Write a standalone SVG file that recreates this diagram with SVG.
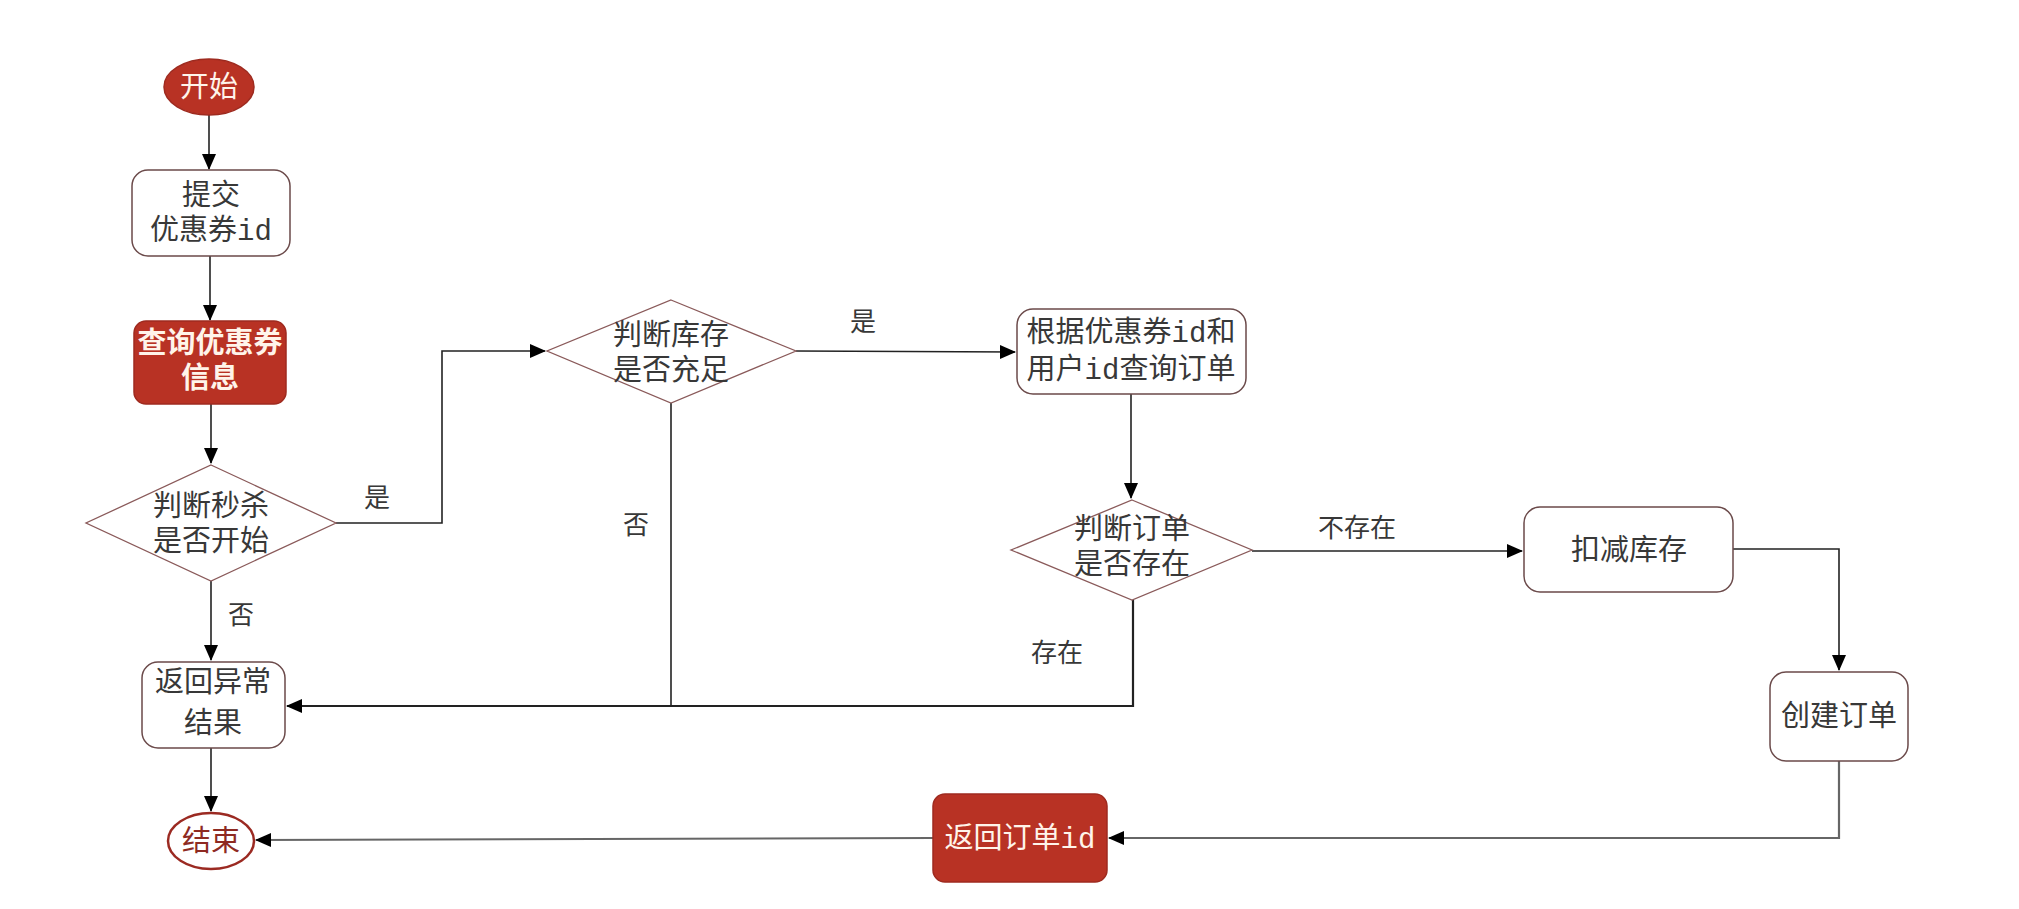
<svg xmlns="http://www.w3.org/2000/svg" width="2019" height="909" viewBox="0 0 2019 909">
<style>
text{font-family:"Liberation Mono","Noto Sans CJK SC",monospace;font-size:29px;text-anchor:middle;fill:#383838}
.w{fill:#fff4ea}
.b{font-weight:bold}
.red{fill:#b83224;stroke:#9e2a1f;stroke-width:1.5}
.box{fill:#fff;stroke:#6b4a4a;stroke-width:1.5}
.dia{fill:#fff;stroke:#8a5a5a;stroke-width:1.3}
.ln{fill:none;stroke:#222;stroke-width:1.6}
.lg{fill:none;stroke:#666;stroke-width:2.2}
.lbl{font-size:26px}
</style>
<defs>
<marker id="ah" markerWidth="16" markerHeight="16" refX="15" refY="8" orient="auto" markerUnits="userSpaceOnUse">
<path d="M0,1 L16,8 L0,15 Z" fill="#000"/>
</marker>
</defs>
<g id="connectors">
<path class="ln" d="M209,115 V169" marker-end="url(#ah)"/>
<path class="ln" d="M210,256 V320" marker-end="url(#ah)"/>
<path class="ln" d="M211,404 V463" marker-end="url(#ah)"/>
<path class="ln" d="M336,523 H442 V351 H545" marker-end="url(#ah)"/>
<path class="ln" d="M211,581 V660" marker-end="url(#ah)"/>
<path class="ln" d="M671,403 V706"/>
<path class="ln" d="M1133,600 V706 H287" marker-end="url(#ah)" style="stroke-width:2.2"/>
<path class="ln" d="M796,351 L1015,352" marker-end="url(#ah)"/>
<path class="ln" d="M1131,394 V498" marker-end="url(#ah)"/>
<path class="ln" d="M1252,551 H1522" marker-end="url(#ah)"/>
<path class="ln" d="M1733,549 H1839 V670" marker-end="url(#ah)"/>
<path class="lg" d="M1839,761 V838 H1109" marker-end="url(#ah)"/>
<path class="lg" d="M933,838 L256,840" marker-end="url(#ah)"/>
<path class="ln" d="M211,748 V811" marker-end="url(#ah)"/>
<text class="lbl" x="377" y="507">是</text>
<text class="lbl" x="241" y="624">否</text>
<text class="lbl" x="636" y="534">否</text>
<text class="lbl" x="863" y="331">是</text>
<text class="lbl" x="1057" y="662">存在</text>
<text class="lbl" x="1357" y="537">不存在</text>
</g>
<g id="start">
<ellipse class="red" cx="209" cy="87" rx="45" ry="28"/>
<text class="w" x="209" y="97">开始</text>
</g>
<g id="submit">
<rect class="box" x="132" y="170" width="158" height="86" rx="16"/>
<text x="211" y="205">提交</text>
<text x="211" y="240">优惠券id</text>
</g>
<g id="query">
<rect class="red" x="134" y="321" width="152" height="83" rx="12"/>
<text class="w b" x="210" y="353">查询优惠券</text>
<text class="w b" x="210" y="388">信息</text>
</g>
<g id="judge-start">
<polygon class="dia" points="211,465 336,523 211,581 86,523"/>
<text x="211" y="516">判断秒杀</text>
<text x="211" y="551">是否开始</text>
</g>
<g id="return-error">
<rect class="box" x="142" y="662" width="143" height="86" rx="16"/>
<text x="213" y="692">返回异常</text>
<text x="213" y="733">结果</text>
</g>
<g id="end">
<ellipse cx="211" cy="841" rx="43" ry="28" fill="#fff" stroke="#9b2a22" stroke-width="2.5"/>
<text x="211" y="851" style="fill:#8e2a22">结束</text>
</g>
<g id="judge-stock">
<polygon class="dia" points="671,300 796,351 671,403 547,351"/>
<text x="671" y="345">判断库存</text>
<text x="671" y="380">是否充足</text>
</g>
<g id="query-order">
<rect class="box" x="1017" y="309" width="229" height="85" rx="16"/>
<text x="1131" y="342">根据优惠券id和</text>
<text x="1131" y="379">用户id查询订单</text>
</g>
<g id="judge-order">
<polygon class="dia" points="1132,500 1252,550 1132,600 1011,550"/>
<text x="1132" y="539">判断订单</text>
<text x="1132" y="574">是否存在</text>
</g>
<g id="deduct">
<rect class="box" x="1524" y="507" width="209" height="85" rx="16"/>
<text x="1629" y="560">扣减库存</text>
</g>
<g id="create-order">
<rect class="box" x="1770" y="672" width="138" height="89" rx="16"/>
<text x="1839" y="726">创建订单</text>
</g>
<g id="return-order">
<rect class="red" x="933" y="794" width="174" height="88" rx="12"/>
<text class="w" x="1020" y="848">返回订单id</text>
</g>
</svg>
